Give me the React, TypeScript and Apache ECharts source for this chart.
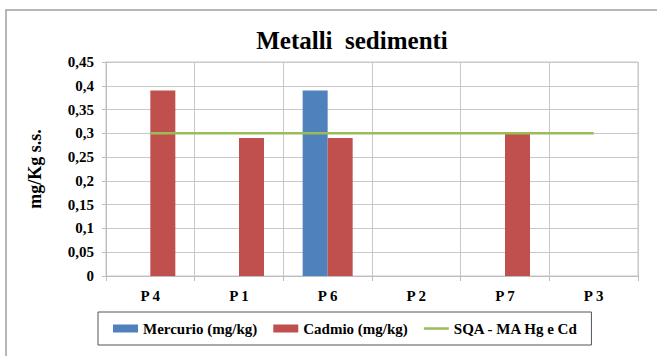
import React, { useEffect, useRef } from "react";
import * as echarts from "echarts";

// Sampling stations
const categories = ["P 4", "P 1", "P 6", "P 2", "P 7", "P 3"];
// Mercury concentration (mg/kg)
const mercurio = [null, null, 0.39, null, null, null];
// Cadmium concentration (mg/kg)
const cadmio = [0.39, 0.29, 0.29, null, 0.3, null];
// Environmental quality standard (SQA - MA) for Hg and Cd
const sqa = [0.3, 0.3, 0.3, 0.3, 0.3, 0.3];

const FONT = "serif";

const fmt = (v: number) => String(Math.round(v * 100) / 100).replace(".", ",");

export default function App() {
  const ref = useRef<HTMLDivElement>(null);

  useEffect(() => {
    document.body.style.margin = "0";
    const chart = echarts.init(ref.current!, null, { renderer: "svg" });
    chart.setOption({
      animation: false,
      backgroundColor: "#ffffff",
      textStyle: { fontFamily: FONT },
      graphic: [
        {
          type: "rect",
          shape: { x: 6, y: 10, width: 700, height: 400 },
          style: { fill: "none", stroke: "#a0a0a0", lineWidth: 1.5 },
          silent: true,
        },
        {
          type: "text",
          x: 352,
          y: 40,
          style: {
            text: "Metalli  sedimenti",
            fontFamily: FONT,
            fontWeight: "bold",
            fontSize: 25,
            fill: "#000",
            align: "center",
            verticalAlign: "middle",
          },
        },
      ],
      legend: {
        left: 98,
        top: 312,
        orient: "horizontal",
        itemWidth: 25,
        itemHeight: 8,
        itemGap: 16,
        padding: [9, 13, 9, 15],
        borderColor: "#555",
        borderWidth: 1,
        textStyle: { fontFamily: FONT, fontWeight: "bold", fontSize: 15, color: "#000" },
        data: [
          { name: "Mercurio (mg/kg)", icon: "rect" },
          { name: "Cadmio (mg/kg)", icon: "rect" },
          { name: "SQA - MA Hg e Cd", icon: "path://M0,0 L25,0 L25,2.5 L0,2.5 Z" },
        ],
      },
      grid: {
        left: 106,
        right: 19,
        top: 62,
        bottom: 80,
        show: true,
        borderColor: "#c8c8c8",
        borderWidth: 1,
      },
      xAxis: {
        type: "category",
        data: categories,
        boundaryGap: true,
        axisLine: { lineStyle: { color: "#bdbdbd", width: 1 } },
        axisTick: { show: true, length: 5, lineStyle: { color: "#bdbdbd" } },
        axisLabel: {
          margin: 12,
          fontFamily: FONT,
          fontWeight: "bold",
          fontSize: 15,
          color: "#000",
        },
        splitLine: { show: true, lineStyle: { color: "#c8c8c8", width: 1 } },
      },
      yAxis: {
        type: "value",
        min: 0,
        max: 0.45,
        interval: 0.05,
        name: "mg/Kg s.s.",
        nameLocation: "middle",
        nameGap: 62,
        nameRotate: 90,
        nameTextStyle: { fontFamily: FONT, fontWeight: "bold", fontSize: 18, color: "#000" },
        axisLine: { show: true, lineStyle: { color: "#bdbdbd", width: 1 } },
        axisTick: { show: true, length: 4, lineStyle: { color: "#bdbdbd" } },
        axisLabel: {
          margin: 12,
          formatter: (v: number) => fmt(v),
          fontFamily: FONT,
          fontWeight: "bold",
          fontSize: 15,
          color: "#000",
        },
        splitLine: { show: true, lineStyle: { color: "#c8c8c8", width: 1 } },
      },
      series: [
        {
          name: "Mercurio (mg/kg)",
          type: "bar",
          data: mercurio,
          barWidth: 25,
          barGap: "0%",
          itemStyle: { color: "#4F81BD" },
        },
        {
          name: "Cadmio (mg/kg)",
          type: "bar",
          data: cadmio,
          barWidth: 25,
          barGap: "0%",
          itemStyle: { color: "#C0504D" },
        },
        {
          name: "SQA - MA Hg e Cd",
          type: "line",
          data: sqa,
          symbol: "none",
          showSymbol: false,
          lineStyle: { color: "#9BBB59", width: 2.5 },
          itemStyle: { color: "#9BBB59" },
          z: 3,
        },
      ],
    });
    return () => chart.dispose();
  }, []);

  return (
    <div
      ref={ref}
      style={{ position: "fixed", left: 0, top: 0, width: 657, height: 356 }}
    />
  );
}
